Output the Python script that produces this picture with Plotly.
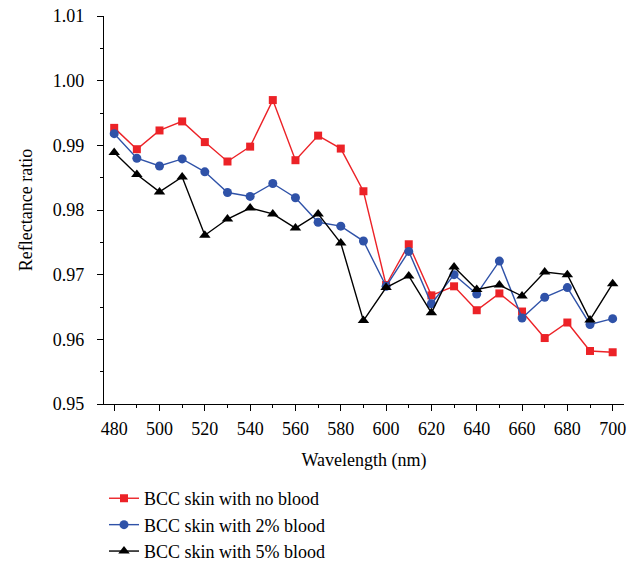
import plotly.graph_objects as go

wavelength = [480, 490, 500, 510, 520, 530, 540, 550, 560, 570, 580, 590,
              600, 610, 620, 630, 640, 650, 660, 670, 680, 690, 700]
no_blood = [0.9927, 0.9894, 0.9923, 0.9937, 0.9905, 0.9875, 0.9898, 0.9970,
            0.9877, 0.9915, 0.9895, 0.9829, 0.9684, 0.9747, 0.9668, 0.9682,
            0.9645, 0.9671, 0.9643, 0.9602, 0.9626, 0.9582, 0.9580]
blood_2 = [0.9918, 0.9880, 0.9868, 0.9879, 0.9859, 0.9827, 0.9821, 0.9841,
           0.9819, 0.9781, 0.9775, 0.9752, 0.9682, 0.9736, 0.9655, 0.9700,
           0.9670, 0.9721, 0.9633, 0.9665, 0.9680, 0.9623, 0.9632]
blood_5 = [0.9889, 0.9855, 0.9828, 0.9851, 0.9761, 0.9786, 0.9803, 0.9794,
           0.9772, 0.9794, 0.9749, 0.9629, 0.9680, 0.9698, 0.9641, 0.9712,
           0.9677, 0.9684, 0.9667, 0.9704, 0.9700, 0.9630, 0.9686]
series_names = ["BCC skin with no blood", "BCC skin with 2% blood", "BCC skin with 5% blood"]

FONT = "Liberation Serif"

fig = go.Figure()
styles = [
    (no_blood, "#EC2227", "square", 8),
    (blood_2, "#2F52A8", "circle", 9),
    (blood_5, "#000000", "triangle-up", 10),
]
for name, (vals, color, sym, size) in zip(series_names, styles):
    fig.add_trace(go.Scatter(
        x=wavelength, y=vals, name=name, mode="lines+markers",
        line=dict(color=color, width=1.4),
        marker=dict(symbol=sym, size=size, color=color),
    ))

axis_common = dict(
    showline=True, linecolor="black", linewidth=1.2, mirror=False,
    ticks="outside", ticklen=6, tickwidth=1.2, tickcolor="black",
    showgrid=False, zeroline=False,
    tickfont=dict(family=FONT, size=18, color="black"),
)

fig.update_layout(
    width=629, height=565,
    margin=dict(l=104, r=5, t=16, b=161, autoexpand=False),
    paper_bgcolor="white", plot_bgcolor="white",
    font=dict(family=FONT, size=18, color="black"),
    xaxis=dict(
        range=[475.5, 705], tickmode="array",
        tickvals=list(range(480, 701, 20)),
        minor=dict(ticks="outside", ticklen=3, tickwidth=1, tickcolor="black",
                   tickvals=list(range(490, 701, 20))),
        title=dict(text="Wavelength (nm)", font=dict(family=FONT, size=18)),
        ticklabelstandoff=2,
        **axis_common,
    ),
    yaxis=dict(
        range=[0.95, 1.01], tickmode="array",
        tickvals=[0.95, 0.96, 0.97, 0.98, 0.99, 1.00, 1.01],
        ticktext=["0.95", "0.96", "0.97", "0.98", "0.99", "1.00", "1.01"],
        minor=dict(ticks="outside", ticklen=3, tickwidth=1, tickcolor="black",
                   tickvals=[0.955, 0.965, 0.975, 0.985, 0.995, 1.005]),
        title=dict(text="Reflectance ratio", font=dict(family=FONT, size=18)),
        ticklabelstandoff=9,
        **axis_common,
    ),
    legend=dict(
        x=0, xanchor="left",
        y=-0.196, yanchor="top",
        font=dict(family=FONT, size=18), bgcolor="rgba(0,0,0,0)",
        tracegroupgap=0, itemwidth=30,
    ),
    showlegend=True,
)

fig.write_html("out.html")
